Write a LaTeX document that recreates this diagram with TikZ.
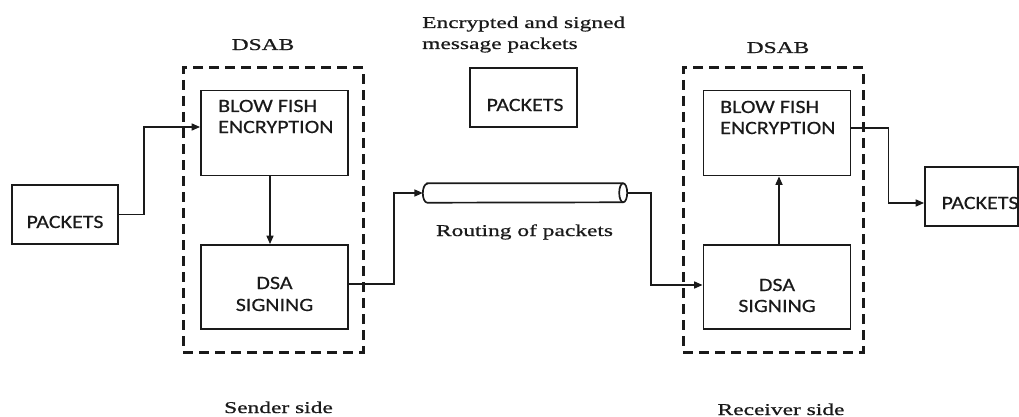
\documentclass[tikz,border=0pt]{standalone}
\usepackage{fontspec}
\usetikzlibrary{arrows.meta}
\newfontfamily\boxfontfam{Carlito}[FakeStretch=1.17,FakeBold=0.4]
\newfontfamily\labfontfam{Liberation Serif}[FakeStretch=1.42,FakeBold=0.8]
\definecolor{ink}{HTML}{1A1A1A}
\tikzset{
  box/.style={draw=ink, line width=1.8pt, inner sep=0pt, minimum width=147pt, minimum height=85pt},
  pkbox/.style={draw=ink, line width=1.8pt, inner sep=0pt},
  dsabbox/.style={draw=ink, line width=3pt, dash pattern=on 10pt off 6pt, inner sep=0pt, minimum width=180pt, minimum height=284pt},
  btext/.style={inner sep=0pt, text=ink, font=\boxfontfam\fontsize{18.8}{21}\selectfont},
  ltext/.style={inner sep=0pt, text=ink, font=\labfontfam\fontsize{16.5}{21}\selectfont},
  arr/.style={draw=ink, line width=1.6pt, -{Triangle[length=8.5pt,width=7pt]}},
  pipebox/.style={inner sep=0pt, minimum width=204pt, minimum height=19pt},
  pipeline/.style={draw=ink, line width=1.7pt}
}
\begin{document}
\begin{tikzpicture}[x=1pt,y=-1pt]
\useasboundingbox (0,0) rectangle (1019,417);
% dashed DSAB frames
\node[dsabbox] (dsab1) at (273,210) {};
\node[dsabbox] (dsab2) at (773,210) {};
\node[ltext, anchor=base] (dsabl1) at (263,50) {DSAB};
\node[ltext, anchor=base] (dsabl2) at (778,53) {DSAB};
% boxes
\node[pkbox, minimum width=106pt, minimum height=59pt] (pk1) at (65,214.5) {};
\node[btext, anchor=base] (pk1t) at (65,228) {PACKETS};
\node[box] (bf1) at (274.5,133) {};
\node[btext, anchor=base west] (bf1a) at (218,112) {BLOW FISH};
\node[btext, anchor=base west] (bf1b) at (218,133) {ENCRYPTION};
\node[box, minimum height=84pt] (ds1) at (274.5,287) {};
\node[btext, anchor=base] (ds1a) at (274.5,289) {DSA};
\node[btext, anchor=base] (ds1b) at (274.5,311) {SIGNING};
\node[pkbox, minimum width=107pt, minimum height=59pt] (pk2) at (523.5,97.5) {};
\node[btext, anchor=base] (pk2t) at (525,111) {PACKETS};
% pipe (routing)
\node[pipebox] (pipe) at (525,193) {};
\draw[pipeline] ([xshift=4.5pt]pipe.north west) -- ([xshift=-4pt]pipe.north east)
  arc[start angle=90, end angle=-90, x radius=4pt, y radius=9.5pt]
  -- ([xshift=4.5pt]pipe.south west)
  arc[start angle=270, end angle=90, x radius=4.5pt, y radius=9.5pt] -- cycle;
\draw[pipeline] ([xshift=-4pt]pipe.north east)
  arc[start angle=90, end angle=270, x radius=4pt, y radius=9.5pt];
\node[box] (bf2) at (777,133) {};
\node[btext, anchor=base west] (bf2a) at (720,113) {BLOW FISH};
\node[btext, anchor=base west] (bf2b) at (720,134) {ENCRYPTION};
\node[box, minimum height=84pt] (ds2) at (777,287) {};
\node[btext, anchor=base] (ds2a) at (777,291) {DSA};
\node[btext, anchor=base] (ds2b) at (777,312) {SIGNING};
\node[pkbox, minimum width=93pt, minimum height=59pt] (pk3) at (971.5,196.5) {};
\node[btext, anchor=base] (pk3t) at (980,209) {PACKETS};
% labels
\node[ltext, anchor=base west] (enc1) at (422,28) {Encrypted and signed};
\node[ltext, anchor=base west] (enc2) at (422,49) {message packets};
\node[ltext, anchor=base] (rout) at (524.5,236) {Routing of packets};
\node[ltext, anchor=base] (snd) at (278.5,413) {Sender side};
\node[ltext, anchor=base] (rcv) at (781,415) {Receiver side};
% connectors
\draw[arr] (pk1.east) -- ++(25,0) |- ([yshift=6pt]bf1.west);
\draw[arr] ([xshift=-4.5pt]bf1.south) -- ([xshift=-4.5pt]bf1.south |- ds1.north);
\draw[arr] ([yshift=3pt]ds1.east) -- ++(45,0) |- (pipe.west);
\draw[arr] (pipe.east) -- ++(24,0) |- ([yshift=2pt]ds2.west);
\draw[arr] ([xshift=2pt]ds2.north) -- ([xshift=2pt]ds2.north |- bf2.south);
\draw[arr] ([yshift=5pt]bf2.east) -- ++(37,0) |- ([yshift=-6.5pt]pk3.west);
\end{tikzpicture}
\end{document}
